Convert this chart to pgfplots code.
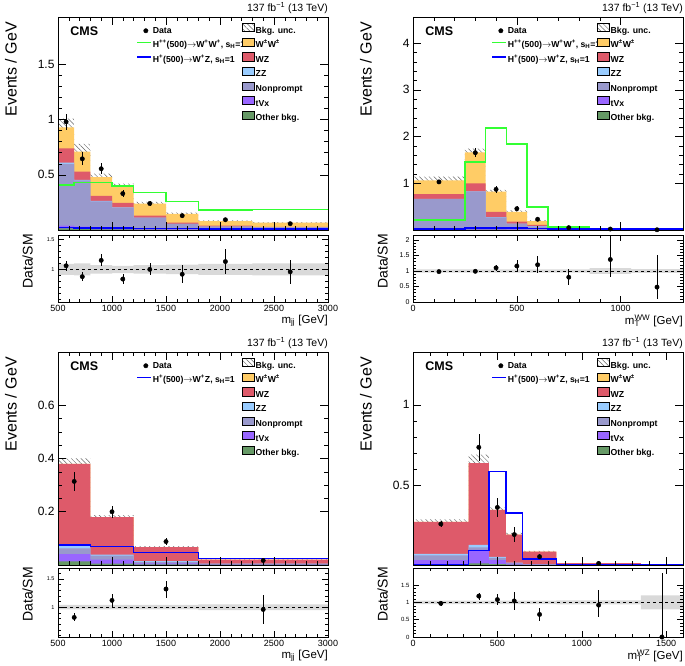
\documentclass[border=0pt]{standalone}
\usepackage{fontspec}
\setmainfont{Liberation Sans}
\usepackage{pgfplots}
\pgfplotsset{compat=1.18}
\usepackage{pgfplotstable}
\usepgfplotslibrary{fillbetween}
\usetikzlibrary{patterns,patterns.meta}

\definecolor{cww}{RGB}{255,204,102}
\definecolor{cwz}{RGB}{222,90,106}
\definecolor{czz}{RGB}{153,204,255}
\definecolor{cnp}{RGB}{153,153,204}
\definecolor{ctv}{RGB}{153,102,255}
\definecolor{cot}{RGB}{102,153,102}
\definecolor{chpp}{RGB}{51,255,51}
\definecolor{chp}{RGB}{0,0,255}

% cumulative stack tops per bin (lo = left bin edge, last row closes the range)
\pgfplotstableread{
lo   ot    tv    np    zz    wz    ww    uh    ul    hpp   hp    bh   bl
500  0.015 0.04  0.60  0.61  0.74  0.93  1.01  0.85  0.41  0.022 1.09 0.91
650  0.010 0.03  0.45  0.455 0.53  0.71  0.78  0.64  0.43  0.020 1.10 0.90
800  0.006 0.02  0.26  0.265 0.31  0.48  0.51  0.45  0.43  0.018 1.07 0.93
1000 0.005 0.015 0.20  0.205 0.245 0.40  0.42  0.38  0.40  0.017 1.06 0.94
1200 0.003 0.01  0.11  0.112 0.13  0.24  0.255 0.225 0.34  0.015 1.07 0.93
1500 0.002 0.006 0.055 0.056 0.066 0.147 0.157 0.137 0.26  0.013 1.08 0.92
1800 0.001 0.004 0.03  0.031 0.04  0.081 0.088 0.074 0.18  0.011 1.09 0.91
2300 0.001 0.003 0.022 0.023 0.028 0.066 0.072 0.060 0.186 0.010 1.10 0.90
3000 0.001 0.003 0.022 0.023 0.028 0.066 0.072 0.060 0.186 0.010 1.10 0.90
}\tlb
\pgfplotstableread{
x    y     e     r    rp   rm
575  0.98  0.07  1.06 0.08 0.08
725  0.645 0.06  0.88 0.07 0.07
900  0.555 0.05  1.15 0.10 0.10
1100 0.33  0.035 0.84 0.09 0.09
1350 0.24  0.025 1.00 0.10 0.10
1650 0.13  0.018 0.92 0.15 0.15
2050 0.093 0.015 1.13 0.20 0.20
2650 0.057 0.010 0.96 0.20 0.20
}\tld

\pgfplotstableread{
lo   ot     tv    np    zz    wz    ww    uh    ul    hpp   hp    bh   bl
0    0.005  0.012 0.66  0.665 0.77  1.06  1.14  0.98  0.21  0.025 1.05 0.95
250  0.010  0.04  0.82  0.825 1.00  1.66  1.74  1.58  1.46  0.04  1.05 0.95
350  0.006  0.02  0.27  0.275 0.39  0.82  0.86  0.78  2.18  0.04  1.05 0.95
450  0.004  0.012 0.13  0.135 0.18  0.39  0.42  0.36  1.84  0.04  1.05 0.95
550  0.002  0.006 0.08  0.085 0.11  0.19  0.21  0.17  0.49  0.03  1.05 0.95
650  0.001  0.003 0.02  0.021 0.03  0.06  0.065 0.055 0.06  0.025 1.05 0.95
850  0.001  0.002 0.008 0.008 0.012 0.025 0.028 0.022 0.01  0.02  1.09 0.91
1050 0.0005 0.001 0.004 0.004 0.006 0.010 0.012 0.008 0.01  0.02  1.06 0.94
1300 0.0005 0.001 0.004 0.004 0.006 0.010 0.012 0.008 0.01  0.02  1.06 0.94
}\trb
\pgfplotstableread{
x    y     e     r    rp   rm
125  1.03  0.05  0.98 0.05 0.05
300  1.655 0.09  0.99 0.05 0.05
400  0.87  0.07  1.10 0.10 0.10
500  0.456 0.05  1.16 0.18 0.18
600  0.23  0.04  1.20 0.28 0.28
750  0.05  0.015 0.80 0.27 0.25
950  0.02  0.01  1.37 0.83 0.55
1175 0.005 0.005 0.48 1.05 0.38
}\trd

\pgfplotstableread{
lo   ot    tv    np    zz    wz    ww    uh    ul    hpp hp    bh   bl
500  0.014 0.041 0.062 0.076 0.38  0.38  0.40  0.36  0   0.076 1.04 0.96
800  0.005 0.02  0.035 0.039 0.18  0.18  0.187 0.173 0   0.07  1.04 0.96
1200 0.002 0.006 0.012 0.015 0.067 0.067 0.071 0.063 0   0.047 1.04 0.96
1800 0.001 0.002 0.004 0.005 0.02  0.02  0.021 0.019 0   0.025 1.05 0.95
3000 0.001 0.002 0.004 0.005 0.02  0.02  0.021 0.019 0   0.025 1.05 0.95
}\blb
\pgfplotstableread{
x    y     e     r    rp   rm
650  0.314 0.035 0.82 0.07 0.07
1000 0.20  0.022 1.12 0.11 0.11
1500 0.088 0.012 1.32 0.15 0.15
2400 0.017 0.005 0.96 0.25 0.25
}\bld

\pgfplotstableread{
lo   ot     tv    np    zz    wz    ww    uh     ul     hpp hp    bh   bl
0    0.004  0.03  0.06  0.07  0.27  0.27  0.285  0.255  0   0.003 1.05 0.95
330  0.010  0.094 0.11  0.125 0.636 0.636 0.69   0.585  0   0.09  1.05 0.95
450  0.005  0.03  0.045 0.05  0.344 0.344 0.36   0.33   0   0.583 1.05 0.95
550  0.002  0.008 0.012 0.015 0.19  0.19  0.20   0.18   0   0.323 1.05 0.95
650  0.001  0.003 0.005 0.006 0.083 0.083 0.088  0.078  0   0.036 1.05 0.95
850  0.0005 0.001 0.002 0.002 0.011 0.011 0.012  0.010  0   0.003 1.06 0.94
1350 0      0     0     0     0.001 0.001 0.0012 0.0008 0   0.003 1.20 0.80
1600 0      0     0     0     0.001 0.001 0.0012 0.0008 0   0.003 1.20 0.80
}\brb
\pgfplotstableread{
x    y     e     r    rp   rm
165  0.256 0.02  0.97 0.07 0.07
390  0.735 0.085 1.18 0.10 0.10
500  0.36  0.06  1.08 0.17 0.17
600  0.19  0.045 1.04 0.27 0.27
750  0.052 0.015 0.65 0.20 0.20
1100 0.010 0.006 0.92 0.45 0.35
1475 0     0     0    1.85 0
}\brd

\tikzset{hatch/.style={pattern={Lines[angle=135, distance=3.4pt, line width=0.45pt]}, pattern color=black!60}}

\pgfplotsset{
  cms/.style={
    scale only axis, width=270pt,
    /pgf/number format/assume math mode=true,
    /pgf/number format/1000 sep={},
    scaled ticks=false,
    axis on top,
    tick align=inside,
    major tick length=8pt, minor tick length=4pt,
    every tick/.style={black, line width=0.5pt},
    axis line style={line width=0.6pt},
    tick label style={font=\fontsize{12}{12}\selectfont},
  },
  main/.style={cms, height=213pt, ymin=0, xticklabels={},
    ylabel={Events / GeV},
    ylabel style={at={([xshift=-41pt,yshift=-5pt]rel axis cs:0,1)}, anchor=south east,
      inner sep=0pt, font=\fontsize{16}{16}\selectfont},
    legend columns=2, legend cell align=left,
    legend style={at={(rel axis cs:0.293,0.972)}, anchor=north west,
      draw=none, fill=none, inner sep=0pt, row sep=2.2pt,
      font=\bfseries\fontsize{8.7}{9}\selectfont,
      nodes={inner sep=0.5pt, text height=6.6pt, text depth=2pt},
      /tikz/every even column/.append style={column sep=1.5pt},
      /tikz/every odd column/.append style={column sep=1pt}},
    after end axis/.code={
      \node[anchor=south east, inner sep=0pt, font=\fontsize{10.5}{11}\selectfont]
        at ([yshift=3pt]rel axis cs:1,1) {137 fb\textsuperscript{−1} (13 TeV)};
      \node[anchor=north west, inner sep=0pt, font=\bfseries\fontsize{12.5}{13}\selectfont]
        at (rel axis cs:0.045,0.955) {CMS};
    },
  },
  ratio/.style={cms, ylabel={Data/SM},
    major tick length=6pt, minor tick length=3pt,
    xticklabel style={font=\fontsize{9}{9}\selectfont},
    ylabel style={at={([xshift=-25pt,yshift=1pt]rel axis cs:0,1)}, anchor=south east,
      inner sep=0pt, font=\fontsize{14}{14}\selectfont},
    xlabel style={at={([yshift=-12.5pt]rel axis cs:1,0)}, anchor=north east,
      inner sep=0pt, font=\fontsize{11.5}{12}\selectfont},
  },
  datapt/.style={only marks, mark=*, mark size=2.2pt, black,
    error bars/y dir=both, error bars/y explicit, error bars/error mark=none,
    error bars/error bar style={line width=0.6pt, black}},
  colorbox/.style={legend image code/.code={\fill[fill=#1] (0pt,-0.8pt) rectangle (12pt,7.4pt);}},
  hatchbox/.style={legend image code/.code={\fill[hatch] (0pt,-0.8pt) rectangle (12pt,7.4pt);}},
  % signal line sample drawn with basic-layer commands so that no plot style can recolour it
  lineleg/.style={legend image code/.code={%
    \pgfpathrectangle{\pgfpoint{0pt}{2.2pt}}{\pgfpoint{14pt}{1.6pt}}%
    \pgfsetfillcolor{#1}\pgfusepath{fill}}},
}
% left-column texts are set in boxes of fixed width so that the right column starts where it does in the reference
\newcommand{\lc}[1]{\makebox[87pt][l]{#1}}

\newcommand{\bkgstack}[1]{%
  \addplot[const plot, fill=cww, draw=none, forget plot] table[x=lo, y=ww] {#1} \closedcycle;
  \addplot[const plot, fill=cwz, draw=none, forget plot] table[x=lo, y=wz] {#1} \closedcycle;
  \addplot[const plot, fill=czz, draw=none, forget plot] table[x=lo, y=zz] {#1} \closedcycle;
  \addplot[const plot, fill=cnp, draw=none, forget plot] table[x=lo, y=np] {#1} \closedcycle;
  \addplot[const plot, fill=ctv, draw=none, forget plot] table[x=lo, y=tv] {#1} \closedcycle;
  \addplot[const plot, fill=cot, draw=none, forget plot] table[x=lo, y=ot] {#1} \closedcycle;
  \addplot[const plot, draw=none, name path=uh, forget plot] table[x=lo, y=uh] {#1};
  \addplot[const plot, draw=none, name path=ul, forget plot] table[x=lo, y=ul] {#1};
  \addplot[hatch, draw=none, forget plot] fill between[of=uh and ul];
}
\newcommand{\band}[3]{%
  \addplot[const plot, draw=none, name path=bh, forget plot] table[x=lo, y=bh] {#1};
  \addplot[const plot, draw=none, name path=bl, forget plot] table[x=lo, y=bl] {#1};
  \addplot[fill=gray!30, draw=none, forget plot] fill between[of=bh and bl];
  \addplot[dashed, black, line width=0.5pt, forget plot] coordinates {(#2,1) (#3,1)};
}
\newcommand{\legrest}{%
  \addlegendimage{empty legend}\addlegendentry{\lc{}}
  \addlegendimage{colorbox=czz}\addlegendentry{ZZ}
  \addlegendimage{empty legend}\addlegendentry{\lc{}}
  \addlegendimage{colorbox=cnp}\addlegendentry{Nonprompt}
  \addlegendimage{empty legend}\addlegendentry{\lc{}}
  \addlegendimage{colorbox=ctv}\addlegendentry{tVx}
  \addlegendimage{empty legend}\addlegendentry{\lc{}}
  \addlegendimage{colorbox=cot}\addlegendentry{Other bkg.}
}
\newcommand{\legtop}{%
  \addlegendimage{only marks, mark=*, mark size=2.2pt, black}\addlegendentry{\lc{Data}}
  \addlegendimage{hatchbox}\addlegendentry{Bkg. unc.}
  \addlegendimage{lineleg=chpp}\addlegendentry{\lc{H\textsuperscript{++}(500)$\rightarrow$W\textsuperscript{+}W\textsuperscript{+}, s\textsubscript{H}=1}}
  \addlegendimage{colorbox=cww}\addlegendentry{W\textsuperscript{±}W\textsuperscript{±}}
  \addlegendimage{lineleg=chp}\addlegendentry{\lc{H\textsuperscript{+}(500)$\rightarrow$W\textsuperscript{+}Z, s\textsubscript{H}=1}}
  \addlegendimage{colorbox=cwz}\addlegendentry{WZ}
  \legrest
}
\newcommand{\legbot}{%
  \addlegendimage{only marks, mark=*, mark size=2.2pt, black}\addlegendentry{\lc{Data}}
  \addlegendimage{hatchbox}\addlegendentry{Bkg. unc.}
  \addlegendimage{lineleg=chp}\addlegendentry{\lc{H\textsuperscript{+}(500)$\rightarrow$W\textsuperscript{+}Z, s\textsubscript{H}=1}}
  \addlegendimage{colorbox=cww}\addlegendentry{W\textsuperscript{±}W\textsuperscript{±}}
  \addlegendimage{empty legend}\addlegendentry{\lc{}}
  \addlegendimage{colorbox=cwz}\addlegendentry{WZ}
  \legrest
}

\begin{document}
\begin{tikzpicture}

% ---- top left: mjj, WW region
\begin{axis}[main, at={(58pt,-17pt)}, anchor=north west,
  xmin=500, xmax=3000, ymax=1.93,
  xtick={500,1000,...,3000}, minor x tick num=4,
  ytick={0.5,1,1.5}, minor y tick num=4]
  \bkgstack{\tlb}
  \addplot[const plot, chpp, line width=1.6pt, forget plot] table[x=lo, y=hpp] {\tlb};
  \addplot[const plot, chp, line width=1.6pt, forget plot] table[x=lo, y=hp] {\tlb};
  \addplot[datapt, forget plot] table[x=x, y=y, y error=e] {\tld};
  \legtop
\end{axis}
\begin{axis}[ratio, at={(58pt,-235pt)}, anchor=north west, height=67pt,
  xmin=500, xmax=3000, ymin=0.46, ymax=1.57,
  xtick={500,1000,...,3000}, minor x tick num=4,
  ytick={1,1.5}, minor ytick={0.5,0.6,0.7,0.8,0.9,1.1,1.2,1.3,1.4,1.5},
  yticklabel style={font=\fontsize{5.5}{6}\selectfont},
  xlabel={m\textsubscript{jj} [GeV]}]
  \band{\tlb}{500}{3000}
  \addplot[datapt, forget plot] table[x=x, y=r, y error plus=rp, y error minus=rm] {\tld};
\end{axis}

% ---- top right: mT WW
\begin{axis}[main, at={(413pt,-17pt)}, anchor=north west,
  xmin=0, xmax=1300, ymax=4.56,
  xtick={0,500,1000}, minor x tick num=4,
  ytick={1,2,3,4}, minor y tick num=4]
  \bkgstack{\trb}
  \addplot[const plot, chpp, line width=1.6pt, forget plot] table[x=lo, y=hpp] {\trb};
  \addplot[const plot, chp, line width=1.6pt, forget plot] table[x=lo, y=hp] {\trb};
  \addplot[datapt, forget plot] table[x=x, y=y, y error=e] {\trd};
  \legtop
\end{axis}
\begin{axis}[ratio, at={(413pt,-235pt)}, anchor=north west, height=67pt,
  xmin=0, xmax=1300, ymin=0, ymax=2.16,
  xtick={0,500,1000}, minor x tick num=4,
  ytick={0,0.5,1,1.5,2}, minor y tick num=4,
  yticklabel style={font=\fontsize{7}{7}\selectfont},
  xlabel={m\rlap{\textsubscript{T}}\textsuperscript{WW} [GeV]}]
  \band{\trb}{0}{1300}
  \addplot[datapt, forget plot] table[x=x, y=r, y error plus=rp, y error minus=rm] {\trd};
\end{axis}

% ---- bottom left: mjj, WZ region
\begin{axis}[main, at={(58pt,-352pt)}, anchor=north west,
  xmin=500, xmax=3000, ymax=0.8,
  xtick={500,1000,...,3000}, minor x tick num=4,
  ytick={0.2,0.4,0.6}, minor y tick num=3]
  \bkgstack{\blb}
  \addplot[const plot, chp, line width=1.6pt, forget plot] table[x=lo, y=hp] {\blb};
  \addplot[datapt, forget plot] table[x=x, y=y, y error=e] {\bld};
  \legbot
\end{axis}
\begin{axis}[ratio, at={(58pt,-568pt)}, anchor=north west, height=69pt,
  xmin=500, xmax=3000, ymin=0.475, ymax=1.69,
  xtick={500,1000,...,3000}, minor x tick num=4,
  ytick={1,1.5}, minor ytick={0.5,0.6,0.7,0.8,0.9,1.1,1.2,1.3,1.4,1.5,1.6},
  yticklabel style={font=\fontsize{5.5}{6}\selectfont},
  xlabel={m\textsubscript{jj} [GeV]}]
  \band{\blb}{500}{3000}
  \addplot[datapt, forget plot] table[x=x, y=r, y error plus=rp, y error minus=rm] {\bld};
\end{axis}

% ---- bottom right: mT WZ
\begin{axis}[main, at={(413pt,-352pt)}, anchor=north west,
  xmin=0, xmax=1600, ymax=1.33,
  xtick={0,500,1000,1500}, minor x tick num=4,
  ytick={0.5,1}, minor y tick num=4]
  \bkgstack{\brb}
  \addplot[const plot, chp, line width=1.6pt, forget plot] table[x=lo, y=hp] {\brb};
  \addplot[datapt, forget plot, skip coords between index={6}{7}] table[x=x, y=y, y error=e] {\brd};
  \legbot
\end{axis}
\begin{axis}[ratio, at={(413pt,-568pt)}, anchor=north west, height=69pt,
  xmin=0, xmax=1600, ymin=0, ymax=1.99,
  xtick={0,500,1000,1500}, minor x tick num=4,
  ytick={0,0.5,1,1.5}, minor y tick num=4,
  yticklabel style={font=\fontsize{6}{6}\selectfont},
  xlabel={m\rlap{\textsubscript{T}}\textsuperscript{WZ} [GeV]}]
  \band{\brb}{0}{1600}
  \addplot[datapt, forget plot] table[x=x, y=r, y error plus=rp, y error minus=rm] {\brd};
\end{axis}

\pgfresetboundingbox
\path[use as bounding box] (0pt,0pt) rectangle (685pt,-666pt);
\end{tikzpicture}
\end{document}
